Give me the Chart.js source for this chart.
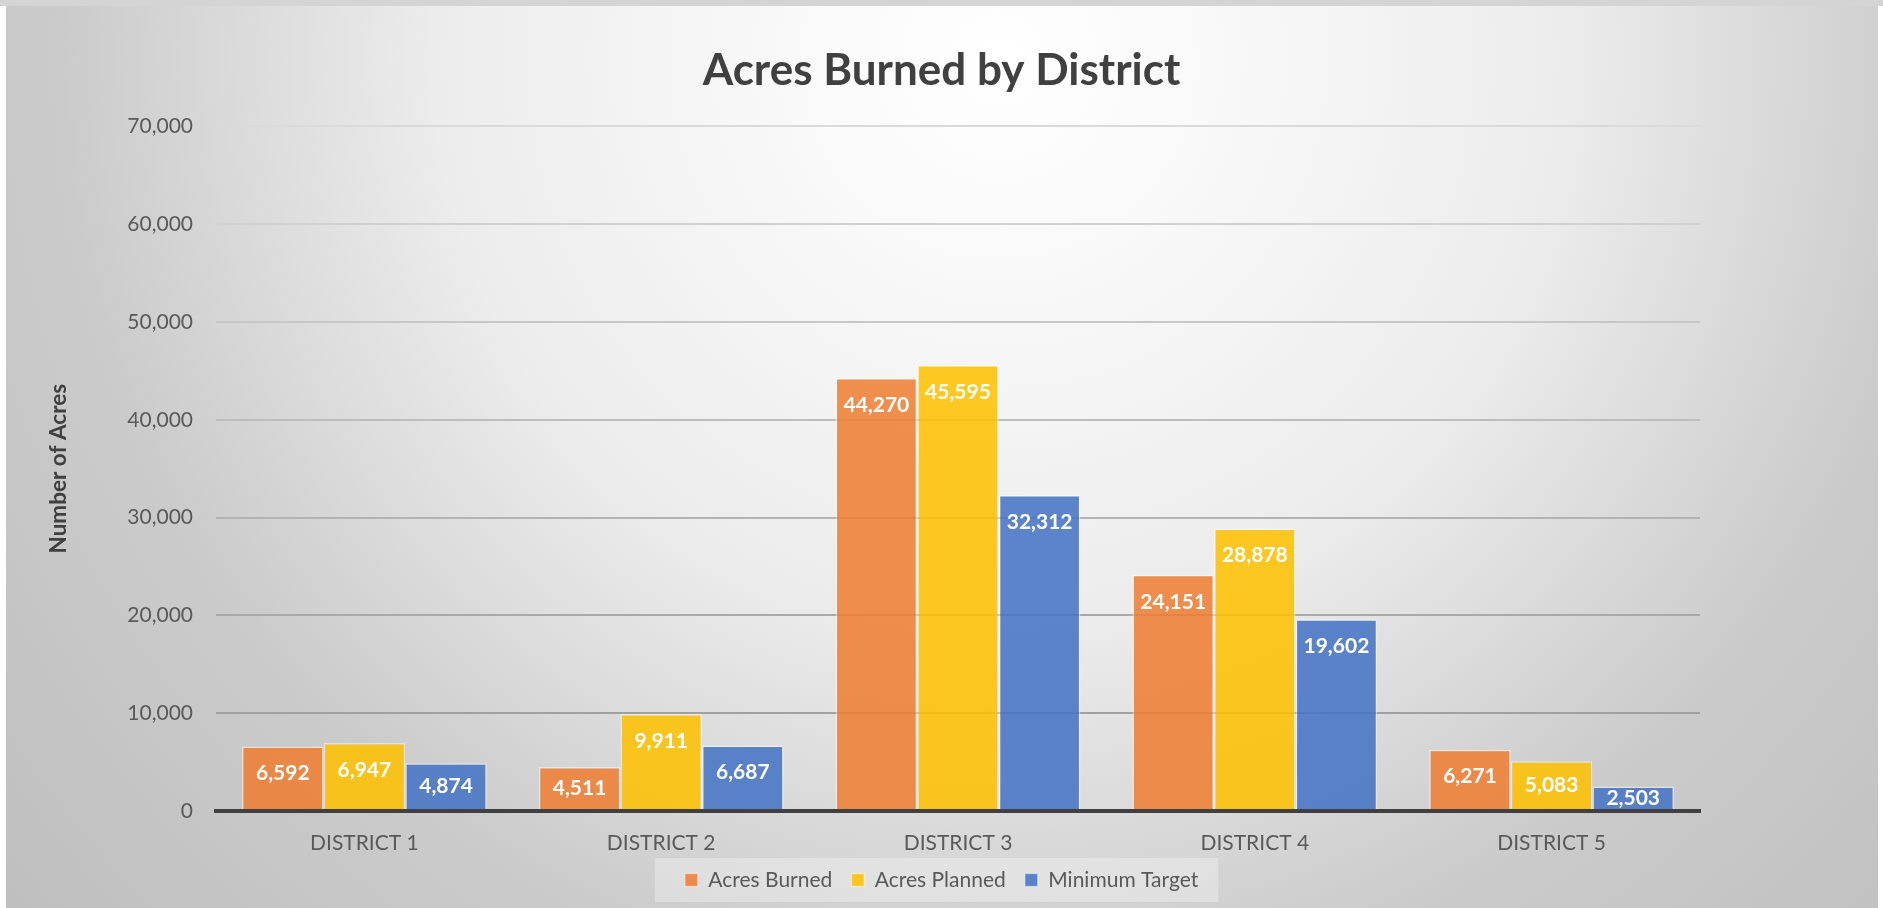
<!DOCTYPE html>
<html>
<head>
<meta charset="utf-8">
<title>Acres Burned by District</title>
<script src="https://cdn.jsdelivr.net/npm/chart.js@4.4.1/dist/chart.umd.min.js"></script>
<style>
  html, body { margin: 0; padding: 0; background: #fff; }
  #wrap { position: relative; width: 1883px; height: 908px; }
</style>
</head>
<body>
<div id="wrap"><canvas id="acresChart"></canvas></div>
<script>
// chart data
var districts = ['DISTRICT 1', 'DISTRICT 2', 'DISTRICT 3', 'DISTRICT 4', 'DISTRICT 5'];
var acresBurned = [6592, 4511, 44270, 24151, 6271];
var acresPlanned = [6947, 9911, 45595, 28878, 5083];
var minimumTarget = [4874, 6687, 32312, 19602, 2503];
var yTicks = [0, 10000, 20000, 30000, 40000, 50000, 60000, 70000];

var FONT = 'Lato, "Open Sans", sans-serif';

function fmt(v) { return Number(v).toLocaleString('en-US'); }

// grey gradient backdrop + light legend box
var backdrop = {
    id: 'backdrop',
    beforeDraw: function(chart) {
        var ctx = chart.ctx, w = chart.width, h = chart.height;
        ctx.save();
        ctx.fillStyle = '#ffffff';
        ctx.fillRect(0, 0, w, h);
        ctx.fillStyle = '#d4d4d4';
        ctx.fillRect(0, 0, w, 6);
        var g = ctx.createRadialGradient(1000, 60, 0, 1000, 60, 1300);
        g.addColorStop(0, '#ffffff');
        g.addColorStop(0.18, '#f8f8f8');
        g.addColorStop(0.435, '#ececec');
        g.addColorStop(0.72, '#cbcbcb');
        g.addColorStop(1, '#bfbfbf');
        ctx.fillStyle = g;
        ctx.fillRect(6, 6, w - 11, h - 6);

        var boxes = chart.legend && chart.legend.legendHitBoxes;
        if (boxes && boxes.length) {
            var first = boxes[0], last = boxes[boxes.length - 1];
            var cy = first.top + first.height / 2;
            ctx.fillStyle = 'rgba(255,255,255,0.3)';
            ctx.fillRect(first.left - 30, cy - 22, last.left + last.width - first.left + 50, 44);
        }
        ctx.restore();
    }
};

// white value labels just inside the top of each bar
var barLabels = {
    id: 'barLabels',
    afterDatasetsDraw: function(chart) {
        var ctx = chart.ctx;
        ctx.save();
        ctx.font = 'bold 21px ' + FONT;
        ctx.fillStyle = '#ffffff';
        ctx.textAlign = 'center';
        ctx.textBaseline = 'middle';
        chart.data.datasets.forEach(function(ds, i) {
            var meta = chart.getDatasetMeta(i);
            meta.data.forEach(function(bar, j) {
                var hgt = bar.base - bar.y;
                var off = Math.min(27, hgt / 2);
                ctx.fillText(fmt(ds.data[j]), bar.x, bar.y + off);
            });
        });
        ctx.restore();
    }
};

function gridGrey(value) {
    // gridlines fade from light at the top to darker near the base
    var f = value / 70000;
    var c = Math.round(150 + f * 68);
    return 'rgb(' + c + ',' + c + ',' + c + ')';
}

var ctx = document.getElementById('acresChart').getContext('2d');
new Chart(ctx, {
    type: 'bar',
    data: {
        labels: districts,
        datasets: [
            {
                label: 'Acres Burned',
                data: acresBurned,
                backgroundColor: 'rgba(237,125,49,0.86)',
                borderColor: 'rgba(255,255,255,0.45)',
                borderWidth: 1.5
            },
            {
                label: 'Acres Planned',
                data: acresPlanned,
                backgroundColor: 'rgba(255,192,0,0.86)',
                borderColor: 'rgba(255,255,255,0.45)',
                borderWidth: 1.5
            },
            {
                label: 'Minimum Target',
                data: minimumTarget,
                backgroundColor: 'rgba(68,114,196,0.86)',
                borderColor: 'rgba(255,255,255,0.45)',
                borderWidth: 1.5
            }
        ]
    },
    options: {
        responsive: true,
        maintainAspectRatio: false,
        animation: false,
        datasets: {
            bar: { categoryPercentage: 0.825, barPercentage: 1 }
        },
        layout: { padding: { left: 0, right: 0, top: 0, bottom: 7.5 } },
        plugins: {
            title: {
                display: true,
                text: 'Acres Burned by District',
                color: '#404040',
                font: { family: FONT, size: 44, weight: 'bold' },
                padding: { top: 44, bottom: 29.5 }
            },
            legend: {
                position: 'bottom',
                labels: {
                    color: '#595959',
                    font: { family: FONT, size: 21 },
                    boxWidth: 13,
                    boxHeight: 13,
                    padding: 19
                }
            },
            tooltip: { enabled: false }
        },
        scales: {
            x: {
                grid: { display: false },
                border: { display: true, color: '#404040', width: 4, z: 1 },
                ticks: { color: '#595959', font: { family: FONT, size: 21 }, padding: 12 },
                afterFit: function(s) { s.height = 39.5; }
            },
            y: {
                min: 0,
                max: 70000,
                afterBuildTicks: function(s) {
                    s.ticks = yTicks.map(function(v) { return { value: v }; });
                },
                border: { display: false },
                grid: {
                    drawTicks: false,
                    lineWidth: 2,
                    color: function(c) {
                        if (!c.tick || c.tick.value === 0) return 'rgba(0,0,0,0)';
                        return gridGrey(c.tick.value);
                    }
                },
                ticks: {
                    color: '#595959',
                    font: { family: FONT, size: 21 },
                    padding: 23,
                    callback: function(v) { return fmt(v); }
                },
                title: {
                    display: true,
                    text: 'Number of Acres',
                    color: '#404040',
                    font: { family: FONT, size: 22.5, weight: 'bold' },
                    padding: { top: 45, bottom: 0 }
                },
                afterFit: function(s) { s.width = 216; }
            },
            yRight: {
                position: 'right',
                display: true,
                grid: { display: false },
                border: { display: false },
                ticks: { display: false },
                afterFit: function(s) { s.width = 183; }
            }
        }
    },
    plugins: [backdrop, barLabels]
});
</script>
</body>
</html>
